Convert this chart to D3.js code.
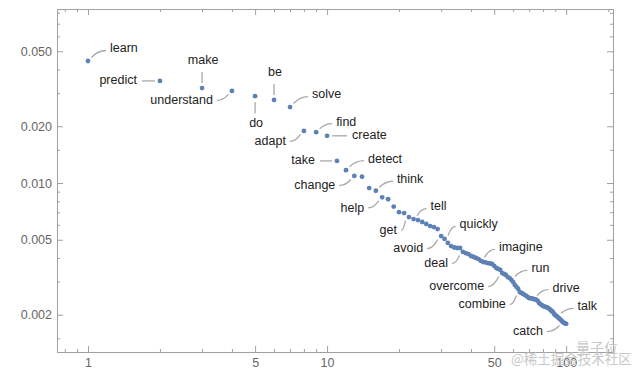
<!DOCTYPE html>
<html><head><meta charset="utf-8">
<script src="https://cdn.jsdelivr.net/npm/d3@7"></script>
<style>body{margin:0;background:#fff;} svg{display:block;}</style>
</head><body><svg id="c" width="640" height="379"></svg>
<script>
// word frequency by rank (rank = index + 1)
const freqValues = [
  0.0444, 0.0348, 0.0319, 0.0308, 0.0289, 0.0276, 0.0253, 0.0189, 0.0186, 0.0178,
  0.0131, 0.0117, 0.0109, 0.0108, 0.0094, 0.0091, 0.0084, 0.0082, 0.0075, 0.0070,
  0.00693, 0.00660, 0.00644, 0.00636, 0.00621, 0.00606, 0.00591, 0.00584, 0.00570, 0.00523,
  0.00505, 0.00481, 0.00463, 0.00455, 0.00452, 0.00452, 0.00431, 0.00425, 0.00420, 0.00410,
  0.00405, 0.00400, 0.00395, 0.00386, 0.00381, 0.00379, 0.00376, 0.00374, 0.00372, 0.00363,
  0.00354, 0.00350, 0.00346, 0.00333, 0.00329, 0.00325, 0.00317, 0.00313, 0.00306, 0.00298,
  0.00288, 0.00281, 0.00274, 0.00264, 0.00261, 0.00258, 0.00255, 0.00252, 0.00249, 0.00245,
  0.00245, 0.00244, 0.00242, 0.00242, 0.00240, 0.00237, 0.00231, 0.00228, 0.00225, 0.00223,
  0.00221, 0.00220, 0.00219, 0.00217, 0.00215, 0.00212, 0.00209, 0.00207, 0.00202, 0.00199,
  0.00197, 0.00195, 0.00192, 0.00190, 0.00188, 0.00185, 0.00183, 0.00181, 0.00180, 0.00179
];
const labelWords = ["learn","predict","make","understand","do","be","solve","adapt","find","create",
  "take","detect","change","think","help","get","tell","quickly","avoid","deal",
  "imagine","overcome","run","combine","drive","talk","catch"];
const labelRanks = [1,2,3,4,5,6,7,8,9,10,11,12,13,16,17,22,23,31,30,37,44,54,59,64,73,92,97];

const xMajorTicks = [1,5,10,50,100];
const xMajorLabels = ["1","5","10","50","100"];
const xMinorTicks = [0.8,0.9,2,3,4,6,7,8,9,20,30,40,60,70,80,90,150];
const yMajorTicks = [0.002,0.005,0.01,0.02,0.05];
const yMajorLabels = ["0.002","0.005","0.010","0.020","0.050"];
const yMinorTicks = [0.0015,0.003,0.004,0.006,0.007,0.008,0.009,0.015,0.03,0.04,0.06,0.07,0.08];

// label layout: [placement, dx, dy] text anchor offset from the point (pixels)
const labelLayout = [
  ["R",22,-13],["LS",-23,-1],["U",1,-28],["L",-19,9],["D",1,26],["U",1,-28],["R",22,-13],["L",-18,10],["R",20,-11],["RS",25,-1],
  ["LS",-22,-1],["R",22,-12],["L",-19,9],["R",21,-12],["L",-18,10],["L",-12,13],["R",17,-13],["R",15,-15],["L",-18,12],["L",-15,11],
  ["R",18,-14],["L",-18,13],["R",20,-12],["L",-14,12],["R",19,-12],["R",20,-11],["L",-20,9]
];

const svg = d3.select("#c");
const L = 57, R = 613, T = 9, B = 352;
const x = d3.scaleLog().domain([0.742,157]).range([L,R]);
const y = d3.scaleLog().domain([0.001269,0.0838]).range([B,T]);
const font = "'Liberation Sans', Arial, Helvetica, sans-serif";
const frameCol = "#a0a0a0";

function styleAxis(g){
  g.selectAll("path.domain").attr("stroke",frameCol).attr("stroke-width",1);
  g.selectAll(".tick line").attr("stroke",frameCol).attr("stroke-width",1);
  g.selectAll(".tick text").attr("fill","#666").attr("font-family",font).attr("font-size","12.5px");
}
// bottom
svg.append("g").attr("transform",`translate(0,${B})`)
  .call(d3.axisBottom(x).tickValues(xMinorTicks).tickSize(-3).tickSizeOuter(0).tickFormat(""))
  .call(styleAxis);
svg.append("g").attr("transform",`translate(0,${B})`)
  .call(d3.axisBottom(x).tickValues(xMajorTicks).tickSize(-6).tickSizeOuter(0).tickPadding(6)
    .tickFormat((d,i)=>xMajorLabels[i]))
  .call(styleAxis);
// top
svg.append("g").attr("transform",`translate(0,${T})`)
  .call(d3.axisTop(x).tickValues(xMinorTicks).tickSize(-3).tickSizeOuter(0).tickFormat(""))
  .call(styleAxis);
svg.append("g").attr("transform",`translate(0,${T})`)
  .call(d3.axisTop(x).tickValues(xMajorTicks).tickSize(-6).tickSizeOuter(0).tickFormat(""))
  .call(styleAxis);
// left
svg.append("g").attr("transform",`translate(${L},0)`)
  .call(d3.axisLeft(y).tickValues(yMinorTicks).tickSize(-3).tickSizeOuter(0).tickFormat(""))
  .call(styleAxis);
svg.append("g").attr("transform",`translate(${L},0)`)
  .call(d3.axisLeft(y).tickValues(yMajorTicks).tickSize(-6).tickSizeOuter(0).tickPadding(5)
    .tickFormat((d,i)=>yMajorLabels[i]))
  .call(styleAxis);
// right
svg.append("g").attr("transform",`translate(${R},0)`)
  .call(d3.axisRight(y).tickValues(yMinorTicks).tickSize(-3).tickSizeOuter(0).tickFormat(""))
  .call(styleAxis);
svg.append("g").attr("transform",`translate(${R},0)`)
  .call(d3.axisRight(y).tickValues(yMajorTicks).tickSize(-6).tickSizeOuter(0).tickFormat(""))
  .call(styleAxis);

// leaders and labels
const lab = svg.append("g");
labelWords.forEach((w,i)=>{
  const r = labelRanks[i];
  const px = x(r), py = y(freqValues[r-1]);
  const [pl,dx,dy] = labelLayout[i];
  const tx = px+dx, ty = py+dy;
  let path, anchor;
  if(pl==="R"){
    anchor="start";
    const sx=px+3.5, sy=py-3.5, ex=tx-4, ey=ty+2.5;
    path=`M${sx},${sy}Q${sx+0.45*(ex-sx)},${ey} ${ex},${ey}`;
  } else if(pl==="L"){
    anchor="end";
    const sx=tx+4, sy=ty+0.5, ex=px-3.5, ey=py+3.5;
    path=`M${sx},${sy}Q${sx+0.55*(ex-sx)},${sy} ${ex},${ey}`;
  } else if(pl==="LS"){
    anchor="end";
    path=`M${tx+5},${py}L${px-5},${py}`;
  } else if(pl==="RS"){
    anchor="start";
    path=`M${px+5},${py}L${tx-5},${py}`;
  } else if(pl==="U"){
    anchor="middle";
    path=`M${px},${ty+12}L${px},${py-5}`;
  } else {
    anchor="middle";
    path=`M${px},${py+6}L${px},${ty-9}`;
  }
  lab.append("path").attr("d",path).attr("fill","none").attr("stroke","#a8a8a8").attr("stroke-width",1.3);
  lab.append("text").attr("x",tx).attr("y",ty).attr("dy","0.35em").attr("text-anchor",anchor)
    .attr("font-family",font).attr("font-size","12.5px").attr("fill","#222").text(w);
});

// points
svg.append("g").selectAll("circle").data(freqValues).join("circle")
  .attr("cx",(d,i)=>x(i+1)).attr("cy",d=>y(d)).attr("r",2.4).attr("fill","#5E81B5");

// watermark
const wm = svg.append("g").attr("font-family","'Noto Sans CJK SC', sans-serif").attr("fill","#c8c8c8");
wm.append("text").attr("x",576).attr("y",348).attr("dy","0.35em").attr("font-size","14px").text("量子位");
wm.append("text").attr("x",511).attr("y",359).attr("dy","0.35em").attr("font-size","13.5px").text("@稀土掘金技术社区");
</script>
</body></html>
